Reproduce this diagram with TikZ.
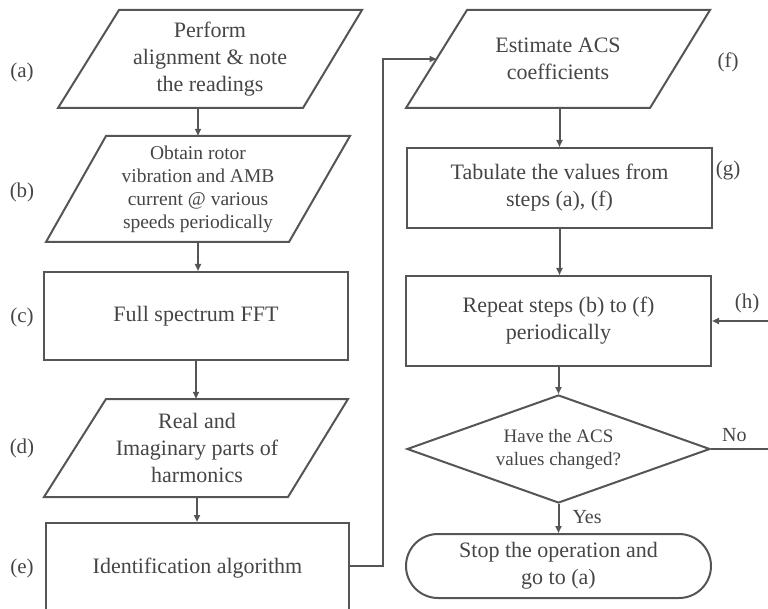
\documentclass[tikz,border=0pt]{standalone}
\usepackage{fontspec}
\setmainfont{Liberation Serif}
\usetikzlibrary{arrows.meta,shapes.geometric,shapes.misc}
\definecolor{ln}{HTML}{555555}
\definecolor{tx}{HTML}{454545}
\tikzset{
  ln/.style={draw=ln, line width=2pt},
  arr/.style={ln, -{Triangle[length=7pt,width=6pt]}},
  big/.style={font=\fontsize{22}{27}\selectfont, text=tx, align=center, inner sep=0pt},
  small/.style={font=\fontsize{19.5}{23}\selectfont, text=tx, align=center, inner sep=0pt},
  lab/.style={font=\fontsize{21}{25}\selectfont, text=tx, inner sep=0pt},
  yn/.style={font=\fontsize{20}{24}\selectfont, text=tx, inner sep=0pt},
  boxs/.style={ln, rectangle, inner sep=0pt},
}
\begin{document}
\begin{tikzpicture}[x=1pt,y=-1pt]
\useasboundingbox (0,0) rectangle (768,609);
% left column
\draw[ln] (119,10) -- (362,10) -- (303,108) -- (58,108) -- cycle;
\node[big, minimum width=240, minimum height=98] (a) at (210,59) {Perform\\alignment \& note\\the readings};
\draw[ln] (106,136) -- (350,136) -- (289,242) -- (46,242) -- cycle;
\node[small, minimum width=240, minimum height=106] (b) at (198,189) {Obtain rotor\\vibration and AMB\\current @ various\\speeds periodically};
\node[big, boxs, minimum width=304, minimum height=88] (c) at (196,316) {Full spectrum FFT};
\draw[ln] (106,399) -- (348,399) -- (288,497) -- (44,497) -- cycle;
\node[big, minimum width=240, minimum height=98] (d) at (197,448) {Real and\\Imaginary parts of\\harmonics};
\node[big, boxs, minimum width=303, minimum height=91] (e) at (197.5,568.5) {Identification algorithm};
% right column
\draw[ln] (467,10) -- (710,10) -- (650,108) -- (406,108) -- cycle;
\node[big, minimum width=240, minimum height=98] (f) at (558,59) {Estimate ACS\\coefficients};
\coordinate (fW) at (436.5,59);
\node[big, boxs, minimum width=305, minimum height=80] (g) at (559.5,188) {Tabulate the values from\\steps (a), (f)};
\node[big, boxs, minimum width=305, minimum height=90] (h) at (558.5,321) {Repeat steps (b) to (f)\\periodically};
\node[ln, diamond, aspect=2.8, minimum width=303, minimum height=108, inner sep=0pt,
      font=\fontsize{19}{23}\selectfont, text=tx, align=center] (q) at (558.5,449) {Have the ACS\\values changed?};
\node[big, ln, rounded rectangle, minimum width=305, minimum height=64] (s) at (558.5,566) {Stop the operation and\\go to (a)};
% labels
\node[lab] at (22,72) {(a)};
\node[lab] at (22,192) {(b)};
\node[lab] at (22,317) {(c)};
\node[lab] at (22,448) {(d)};
\node[lab] at (22,568) {(e)};
\node[lab] at (728,62) {(f)};
\node[lab] at (728,170) {(g)};
\node[lab] at (747,303) {(h)};
% connectors
\draw[arr] (b.north |- a.south) -- (b.north);
\draw[arr] (b.south) -- (b.south |- c.north);
\draw[arr] (c.south) -- (c.south |- d.north);
\draw[arr] (d.south) -- (d.south |- e.north);
\coordinate (up) at (383,566);
\draw[arr] (e.east |- up) -- (up) -- (up |- fW) -- (fW);
\draw[arr] (f.south -| g.north) -- (g.north);
\draw[arr] (g.south) -- (g.south |- h.north);
\draw[arr] (h.south) -- (h.south |- q.north);
\draw[arr] (q.south) -- node[yn, right=13pt, pos=0.45] {Yes} (q.south |- s.north);
\coordinate (far) at (776,449);
\draw[ln] (q.east) -- node[yn, above=6pt, pos=0.36] {No} (far) -- (far |- h.east);
\draw[arr] (far |- h.east) -- (h.east);
\end{tikzpicture}
\end{document}
